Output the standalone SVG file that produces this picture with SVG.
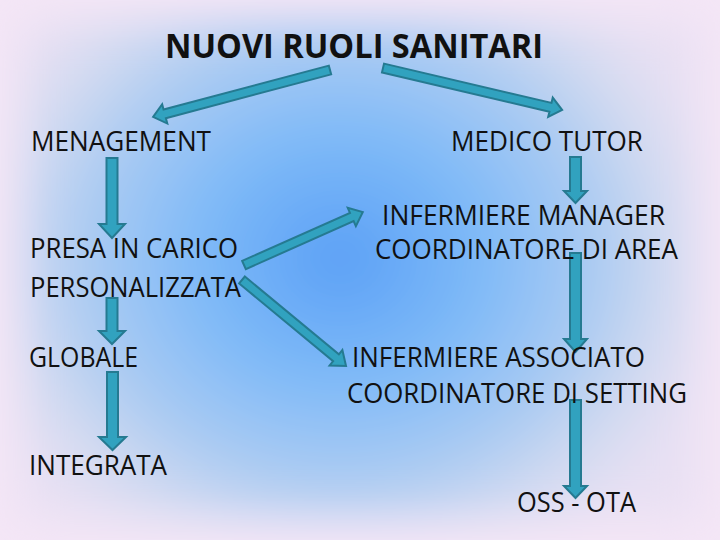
<svg xmlns="http://www.w3.org/2000/svg" width="720" height="540" viewBox="0 0 720 540">
  <defs>
    <radialGradient id="bg" cx="340" cy="258" r="340" gradientUnits="userSpaceOnUse" gradientTransform="translate(340 258) scale(1.15 1) translate(-340 -258)">
      <stop offset="0" stop-color="#5a9ff6"/>
      <stop offset="0.35" stop-color="#7db9f8"/>
      <stop offset="0.65" stop-color="#abcbf2"/>
      <stop offset="0.85" stop-color="#d4dbf1"/>
      <stop offset="1" stop-color="#e8e0f3"/>
    </radialGradient>
    <filter id="soft" x="-20%" y="-20%" width="140%" height="140%">
      <feGaussianBlur stdDeviation="22"/>
    </filter>
    <style>
      .t { font-family: "Open Sans", "Noto Sans", "Liberation Sans", sans-serif; font-size: 27px; fill: #111111; }
      .title { font-weight: bold; font-size: 34px; }
      .arr { fill: #31a2bf; stroke: #257a91; stroke-width: 2; stroke-linejoin: miter; }
    </style>
  </defs>

  <g id="background">
    <rect x="0" y="0" width="720" height="540" fill="#f4e6f6"/>
    <rect x="22" y="22" width="676" height="496" fill="url(#bg)" filter="url(#soft)"/>
  </g>

  <g id="connectors">
    <path class="arr" transform="translate(330 70) rotate(165.13)" d="M0,-4.5 L171,-4.5 L171,-10 L183,0 L171,10 L171,4.5 L0,4.5 Z"/>
    <path class="arr" transform="translate(383 68) rotate(13.2)" d="M0,-4.5 L172,-4.5 L172,-10 L184,0 L172,10 L172,4.5 L0,4.5 Z"/>
    <path class="arr" transform="translate(244 265) rotate(-24)" d="M0,-4.5 L118,-4.5 L118,-10 L130,0 L118,10 L118,4.5 L0,4.5 Z"/>
    <path class="arr" transform="translate(242 280) rotate(39.6)" d="M0,-4.5 L122,-4.5 L122,-10 L135,0 L122,10 L122,4.5 L0,4.5 Z"/>
    <path class="arr" d="M106.5,158 L117.5,158 L117.5,224 L125,224 L112,238 L99,224 L106.5,224 Z"/>
    <path class="arr" d="M106.5,298 L117.5,298 L117.5,331 L125,331 L112,344 L99,331 L106.5,331 Z"/>
    <path class="arr" d="M107,372 L118,372 L118,437 L126,437 L112.5,450 L99,437 L107,437 Z"/>
    <path class="arr" d="M570,157 L581,157 L581,191 L587,191 L575.5,203 L564,191 L570,191 Z"/>
    <path class="arr" d="M570,253 L581,253 L581,339 L587,339 L575.5,352 L564,339 L570,339 Z"/>
    <path class="arr" d="M570,400 L581,400 L581,486 L587,486 L575.5,498 L564,486 L570,486 Z"/>
  </g>

  <g id="title">
    <text class="t title" x="165" y="58" textLength="378" lengthAdjust="spacingAndGlyphs">NUOVI RUOLI SANITARI</text>
  </g>
  <g id="menagement">
    <text class="t" x="31" y="151" textLength="180" lengthAdjust="spacingAndGlyphs">MENAGEMENT</text>
  </g>
  <g id="medico-tutor">
    <text class="t" x="451" y="151" textLength="192" lengthAdjust="spacingAndGlyphs">MEDICO TUTOR</text>
  </g>
  <g id="presa-in-carico">
    <text class="t" x="30" y="258" textLength="208" lengthAdjust="spacingAndGlyphs">PRESA IN CARICO</text>
    <text class="t" x="30" y="297" textLength="211" lengthAdjust="spacingAndGlyphs">PERSONALIZZATA</text>
  </g>
  <g id="globale">
    <text class="t" x="29" y="367" textLength="109" lengthAdjust="spacingAndGlyphs">GLOBALE</text>
  </g>
  <g id="integrata">
    <text class="t" x="29" y="475" textLength="138" lengthAdjust="spacingAndGlyphs">INTEGRATA</text>
  </g>
  <g id="infermiere-manager">
    <text class="t" x="382" y="225" textLength="283" lengthAdjust="spacingAndGlyphs">INFERMIERE MANAGER</text>
    <text class="t" x="375" y="259" textLength="303" lengthAdjust="spacingAndGlyphs">COORDINATORE DI AREA</text>
  </g>
  <g id="infermiere-associato">
    <text class="t" x="352" y="367" textLength="293" lengthAdjust="spacingAndGlyphs">INFERMIERE ASSOCIATO</text>
    <text class="t" x="347" y="403" textLength="340" lengthAdjust="spacingAndGlyphs">COORDINATORE DI SETTING</text>
  </g>
  <g id="oss-ota">
    <text class="t" x="517" y="512" textLength="119" lengthAdjust="spacingAndGlyphs">OSS - OTA</text>
  </g>
</svg>
